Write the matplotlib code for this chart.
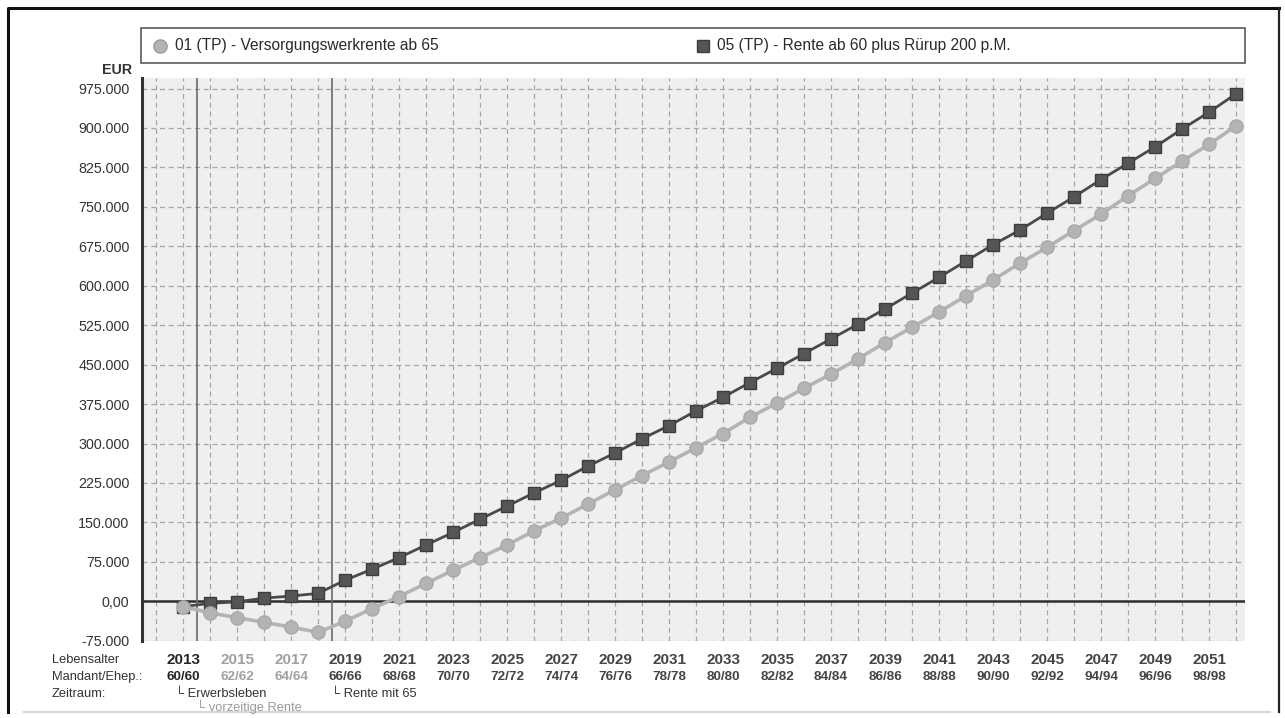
import matplotlib
matplotlib.use("Agg")
import matplotlib.pyplot as plt
import matplotlib.transforms as mtransforms
from matplotlib.patches import Rectangle
from matplotlib.lines import Line2D
from matplotlib.ticker import FixedLocator, FuncFormatter

plt.rcParams['font.family'] = ['Liberation Sans', 'DejaVu Sans']

# ---- data -------------------------------------------------------------
years = list(range(2013, 2053))

# 01 (TP) - Versorgungswerkrente ab 65 (EUR)
versorgungswerk = [
    -10000, -22000, -31000, -40000, -49000, -59000, -38000, -14000, 9000, 34000,
    59000, 83000, 107000, 134000, 158000, 185000, 212000, 239000, 265000, 292000,
    319000, 350000, 377000, 405000, 432000, 461000, 492000, 521000, 550000, 581000,
    611000, 643000, 673000, 705000, 736000, 771000, 804000, 837000, 869000, 904000,
]

# 05 (TP) - Rente ab 60 plus Rürup 200 p.M. (EUR)
ruerup = [
    -10000, -4000, -1000, 6000, 10000, 15000, 40000, 61000, 83000, 107000,
    131000, 156000, 181000, 206000, 230000, 257000, 282000, 309000, 334000, 362000,
    388000, 416000, 443000, 471000, 499000, 527000, 556000, 586000, 616000, 647000,
    678000, 706000, 738000, 769000, 802000, 833000, 864000, 898000, 930000, 965000,
]

series_labels = ["01 (TP) - Versorgungswerkrente ab 65",
                 "05 (TP) - Rente ab 60 plus Rürup 200 p.M."]

y_ticks = [-75000, 0, 75000, 150000, 225000, 300000, 375000, 450000, 525000,
           600000, 675000, 750000, 825000, 900000, 975000]

label_years = list(range(2013, 2052, 2))
ages = [f"{a}/{a}" for a in range(60, 99, 2)]

phase_bounds = [2013.5, 2018.5]

# ---- figure ----------------------------------------------------------
W, H = 1285, 718
fig = plt.figure(figsize=(W / 100, H / 100), dpi=100)
fig.patch.set_facecolor("white")

def fx(px):
    return px / W

def fy(py):
    return 1 - py / H

ax = fig.add_axes([fx(142), fy(641), fx(1245) - fx(142), fy(78) - fy(641)])
ax.set_facecolor("#efefef")
ax.set_xlim(2011.48, 2052.33)
ax.set_ylim(-75500, 995000)

for s in ["top", "right", "bottom"]:
    ax.spines[s].set_visible(False)
ax.spines["left"].set_color("#333333")
ax.spines["left"].set_linewidth(2.2)

# grid
ax.xaxis.set_major_locator(FixedLocator(list(range(2012, 2053))))
ax.yaxis.set_major_locator(FixedLocator(y_ticks))
ax.grid(True, which="major", color="#a6a6a6", linestyle=(0, (4, 3)), linewidth=0.9)
ax.set_axisbelow(True)
ax.tick_params(axis="x", length=0, labelbottom=False)
ax.tick_params(axis="y", length=0, pad=9, labelsize=10.3, labelcolor="#333333")

def eur_fmt(v, pos):
    if v == 0:
        return "0,00"
    return f"{int(v):,}".replace(",", ".")

ax.yaxis.set_major_formatter(FuncFormatter(eur_fmt))

# zero line and phase separators
ax.axhline(0, color="#2e2e2e", linewidth=1.8, zorder=2)
for xb in phase_bounds:
    ax.axvline(xb, color="#6a6a6a", linewidth=1.2, zorder=2)

# series
ax.plot(years, versorgungswerk, color="#b4b4b4", linewidth=2.6, marker="o",
        markersize=9.5, markerfacecolor="#b4b4b4", markeredgecolor="#a9a9a9",
        zorder=4)
ax.plot(years, ruerup, color="#4a4a4a", linewidth=2.0, marker="s",
        markersize=8.8, markerfacecolor="#555555", markeredgecolor="#3c3c3c",
        zorder=3)

# ---- legend box --------------------------------------------------------
fig.patches.append(Rectangle((fx(141), fy(63)), fx(1245) - fx(141), fy(28) - fy(63),
                             transform=fig.transFigure, facecolor="white",
                             edgecolor="#4d4d4d", linewidth=1.1))
fig.lines.append(Line2D([fx(160)], [fy(45.5)], transform=fig.transFigure,
                        marker="o", markersize=9.5, markerfacecolor="#b4b4b4",
                        markeredgecolor="#9a9a9a", linestyle="none"))
fig.text(fx(175), fy(45.5), series_labels[0], fontsize=11.2, color="#2a2a2a",
         va="center", ha="left")
fig.lines.append(Line2D([fx(703)], [fy(45.5)], transform=fig.transFigure,
                        marker="s", markersize=8.8, markerfacecolor="#555555",
                        markeredgecolor="#3c3c3c", linestyle="none"))
fig.text(fx(717), fy(45.5), series_labels[1], fontsize=11.2, color="#2a2a2a",
         va="center", ha="left")

fig.text(fx(132), fy(70), "EUR", fontsize=10.3, fontweight="bold", color="#333333",
         ha="right", va="center")

# ---- bottom annotation rows -------------------------------------------
blend = mtransforms.blended_transform_factory(ax.transData, fig.transFigure)

def year_color(yr):
    if yr == 2013:
        return "#262626"
    if yr < 2019:
        return "#a0a0a0"
    return "#444444"

for yr, age in zip(label_years, ages):
    c = year_color(yr)
    ax.text(yr, fy(660), str(yr), transform=blend, fontsize=11, fontweight="bold",
            color=c, ha="center", va="center", clip_on=False)
    ax.text(yr, fy(677), age, transform=blend, fontsize=9.7, fontweight="bold",
            color=c, ha="center", va="center", clip_on=False)

row_font = dict(fontsize=9.3, color="#333333", ha="left", va="center")
fig.text(fx(52), fy(660), "Lebensalter", **row_font)
fig.text(fx(52), fy(677), "Mandant/Ehep.:", **row_font)
fig.text(fx(52), fy(694), "Zeitraum:", **row_font)

fig.text(fx(175), fy(694), "\u2514 Erwerbsleben", fontsize=9.3, color="#333333",
         ha="left", va="center")
fig.text(fx(196), fy(707), "\u2514 vorzeitige Rente", fontsize=9.3, color="#9a9a9a",
         ha="left", va="center")
fig.text(fx(331), fy(694), "\u2514 Rente mit 65", fontsize=9.3, color="#333333",
         ha="left", va="center")

# ---- outer frame -------------------------------------------------------
fig.lines.append(Line2D([fx(8), fx(8), fx(1279)], [fy(712), fy(8), fy(8)],
                        transform=fig.transFigure, color="#111111", linewidth=2.2))
fig.lines.append(Line2D([fx(1279), fx(1279)], [fy(8), fy(712)],
                        transform=fig.transFigure, color="#222222", linewidth=1.6))
fig.lines.append(Line2D([fx(24), fx(1270)], [fy(712), fy(712)],
                        transform=fig.transFigure, color="#d6d6d6", linewidth=1.5))

fig.savefig("out.png", dpi=100)
